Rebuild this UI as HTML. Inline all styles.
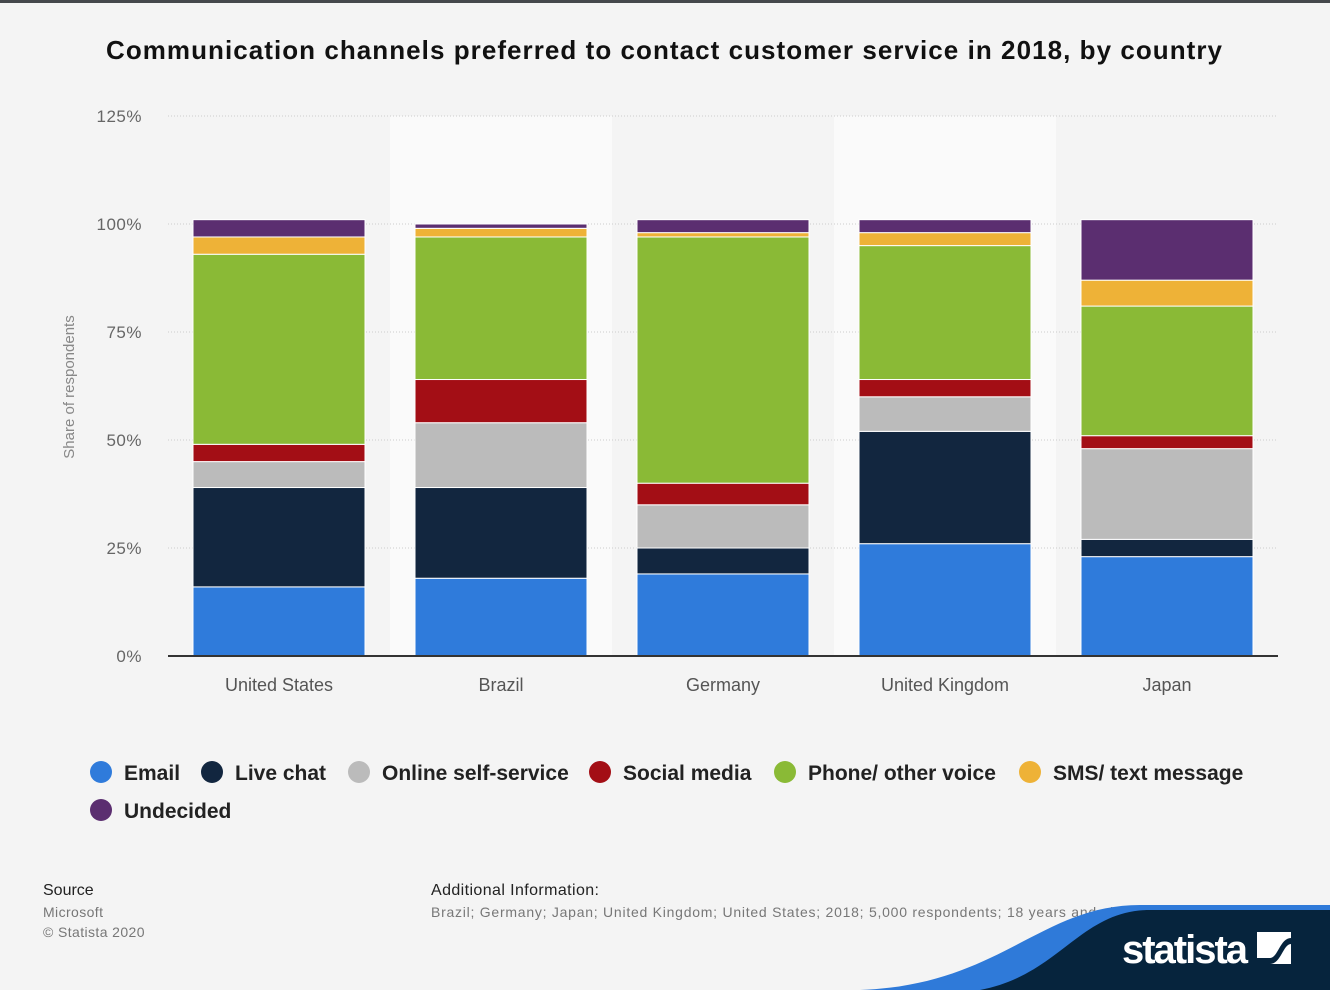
<!DOCTYPE html>
<html><head><meta charset="utf-8"><style>
body{margin:0;width:1330px;height:990px;background:#f4f4f4;font-family:"Liberation Sans",sans-serif;overflow:hidden;position:relative}
</style></head><body>
<div style="position:absolute;left:0;top:0;width:1330px;height:3px;background:#45484c"></div>
<svg id="c" width="1330" height="990" style="position:absolute;left:0;top:0">
<text x="106" y="59" font-size="26" font-weight="bold" fill="#111" textLength="1116" lengthAdjust="spacing">Communication channels preferred to contact customer service in 2018, by country</text>
<text transform="translate(74,387) rotate(-90)" text-anchor="middle" font-size="15" fill="#888">Share of respondents</text>
<g id="plot"></g>
<g id="legend"></g>
<text x="43" y="895" font-size="16" fill="#222">Source</text>
<text x="43" y="917" font-size="14" fill="#777" letter-spacing="0.4">Microsoft</text>
<text x="43" y="937" font-size="14" fill="#777" letter-spacing="0.4">© Statista 2020</text>
<text x="431" y="895" font-size="16" fill="#222" letter-spacing="0.4">Additional Information:</text>
<text x="431" y="917" font-size="14" fill="#777" letter-spacing="0.75">Brazil; Germany; Japan; United Kingdom; United States; 2018; 5,000 respondents; 18 years and older</text>
<path d="M860 990 C1000 985 1040 905 1140 905 L1330 905 L1330 990 Z" fill="#2f7ad9"/>
<path d="M980 990 C1060 975 1080 910 1150 910 L1330 910 L1330 990 Z" fill="#06243d"/>
<text x="1122" y="963" font-size="40" font-weight="bold" fill="#fff" textLength="126">statista</text>
<g><rect x="1257" y="932" width="34" height="32" fill="#fff"/><path d="M1257 958 L1270 958 C1278 958 1280 938 1291 938 L1291 944 C1283 944 1281 964 1270 964 L1257 964Z" fill="#06243d"/></g>
</svg>
<script>
const categories=["United States","Brazil","Germany","United Kingdom","Japan"];
const seriesNames=["Email","Live chat","Online self-service","Social media","Phone/ other voice","SMS/ text message","Undecided"];
const colors=["#2f7bdb","#12263f","#bbbbbb","#a30e15","#8aba36","#eeb237","#5b2e70"];
const email=[16,18,19,26,23];
const liveChat=[23,21,6,26,4];
const selfService=[6,15,10,8,21];
const social=[4,10,5,4,3];
const phone=[44,33,57,31,30];
const sms=[4,2,1,3,6];
const undecided=[4,1,3,3,14];
const yTicks=[0,25,50,75,100,125];
const series=[email,liveChat,selfService,social,phone,sms,undecided];
const NS="http://www.w3.org/2000/svg";
const x0=168,x1=1278,yb=656,pxPer=4.32;
const band=(x1-x0)/categories.length;
const y=v=>yb-v*pxPer;
const plot=document.getElementById('plot');
function mk(t,a,p){const e=document.createElementNS(NS,t);for(const k in a)e.setAttribute(k,a[k]);(p||plot).appendChild(e);return e;}
categories.forEach((c,i)=>{if(i%2==1){const r=mk('rect',{x:x0+i*band,y:y(125),width:band,height:y(0)-y(125),fill:'#fafafa'});

}});
yTicks.forEach(t=>{if(t>0){const l=mk('line',{x1:x0,x2:x1,y1:y(t),y2:y(t),stroke:'#ccc','stroke-dasharray':'1,2'});

}
const tx=mk('text',{x:142,y:y(t)+6,'text-anchor':'end','font-size':17,fill:'#666','letter-spacing':'0.5'});tx.textContent=t+'%';

});
categories.forEach((c,i)=>{let acc=0;const bx=x0+i*band+25,bw=band-50;
series.forEach((s,j)=>{const v=s[i];const r=mk('rect',{x:bx,y:y(acc+v),width:bw,height:v*pxPer,fill:colors[j],stroke:'#fff','stroke-width':1});

acc+=v;});
const t=mk('text',{x:x0+(i+0.5)*band,y:691,'text-anchor':'middle','font-size':18,fill:'#555'});t.textContent=c;

});
const ax=mk('line',{x1:x0,x2:x1,y1:yb,y2:yb,stroke:'#333','stroke-width':2});


const lg=document.getElementById('legend');
const lx=[101,212,359,600,785,1030,101],ly=[772,772,772,772,772,772,810];
seriesNames.forEach((n,j)=>{const g=mk('g',{},lg);


mk('circle',{cx:lx[j],cy:ly[j],r:11,fill:colors[j]},g);
const t=mk('text',{x:lx[j]+23,y:ly[j]+8,'font-size':21,'font-weight':'bold',fill:'#222'},g);t.textContent=n;});
</script>
</body></html>
